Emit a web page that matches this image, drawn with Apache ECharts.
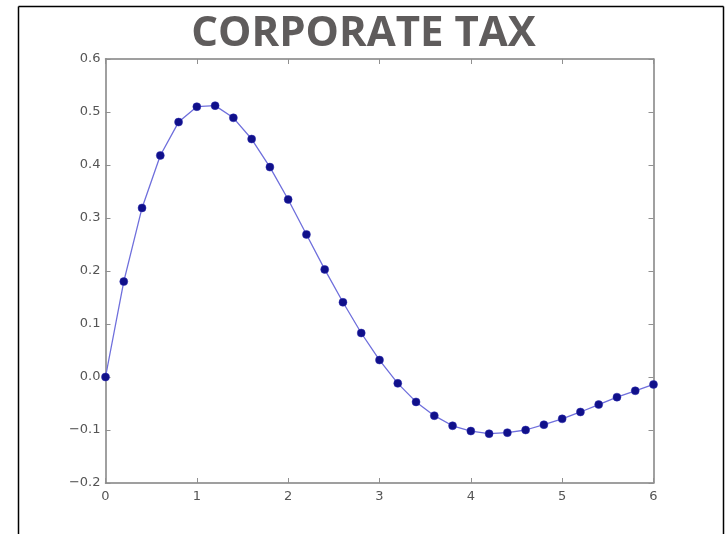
<!DOCTYPE html>
<html>
<head>
<meta charset="utf-8">
<script src="https://cdn.jsdelivr.net/npm/echarts@6/dist/echarts.min.js"></script>
<style>html,body{margin:0;padding:0;background:#fff;}#c{width:727px;height:534px;}</style>
</head>
<body>
<div id="c"></div>
<script>
var xValues = [0,0.2,0.4,0.6,0.8,1.0,1.2,1.4,1.6,1.8,2.0,2.2,2.4,2.6,2.8,3.0,3.2,3.4,3.6,3.8,4.0,4.2,4.4,4.6,4.8,5.0,5.2,5.4,5.6,5.8,6.0];
var yValues = [0,0.180,0.319,0.418,0.481,0.510,0.512,0.489,0.449,0.396,0.335,0.269,0.203,0.141,0.083,0.032,-0.012,-0.047,-0.073,-0.092,-0.102,-0.107,-0.105,-0.100,-0.090,-0.079,-0.066,-0.052,-0.038,-0.026,-0.014];
var titleText = 'CORPORATE TAX';
var xTicks = [0,1,2,3,4,5,6];
var yTicks = [-0.2,-0.1,0.0,0.1,0.2,0.3,0.4,0.5,0.6];

var data = xValues.map(function(x,i){return [x,yValues[i]];});
var chart = echarts.init(document.getElementById('c'), null, {renderer:'canvas'});
var axisLineStyle = {color:'#808080', width:1.5};
var tickStyle = {show:true, inside:true, length:5, lineStyle:{color:'#909090', width:1}};
var labelStyle = {color:'#555', fontFamily:'DejaVu Sans', fontSize:13};
function fmtY(v){ var s = Math.abs(v).toFixed(1); return (v < -1e-9 ? '\u2212' : '') + s; }
chart.setOption({
  animation:false,
  title:{text:titleText, left:'center', top:8, textStyle:{fontFamily:'Open Sans', fontWeight:'bold', fontSize:42, color:'#5f5c5c'}},
  grid:{left:105.5, right:73.5, top:59, bottom:51},
  xAxis:[{type:'value', min:0, max:6, interval:1, axisLine:{show:true, onZero:false, lineStyle:axisLineStyle}, axisTick:tickStyle, splitLine:{show:false},
          axisLabel:Object.assign({margin:7, formatter:function(v){return String(v);}}, labelStyle)},
         {type:'value', position:'top', min:0, max:6, interval:1, axisLine:{show:true, onZero:false, lineStyle:axisLineStyle}, axisTick:tickStyle, splitLine:{show:false}, axisLabel:{show:false}}],
  yAxis:[{type:'value', min:-0.2, max:0.6, interval:0.1, axisLine:{show:true, onZero:false, lineStyle:axisLineStyle}, axisTick:tickStyle, splitLine:{show:false},
          axisLabel:Object.assign({margin:5, formatter:fmtY}, labelStyle)},
         {type:'value', position:'right', min:-0.2, max:0.6, interval:0.1, axisLine:{show:true, onZero:false, lineStyle:axisLineStyle}, axisTick:tickStyle, splitLine:{show:false}, axisLabel:{show:false}}],
  series:[{type:'line', data:data, smooth:false, symbol:'circle', symbolSize:8,
           lineStyle:{color:'#6f6fdc', width:1.3}, itemStyle:{color:'#10108a', borderColor:'#2a2ab0', borderWidth:0.5}}],
  graphic:[
    {type:'line', shape:{x1:18.5,y1:6.5,x2:723.5,y2:6.5}, style:{stroke:'#000', lineWidth:1.5}},
    {type:'line', shape:{x1:18.5,y1:6.5,x2:18.5,y2:534}, style:{stroke:'#000', lineWidth:1.5}},
    {type:'line', shape:{x1:723.5,y1:6.5,x2:723.5,y2:534}, style:{stroke:'#000', lineWidth:1.5}}
  ]
});
</script>
</body>
</html>
